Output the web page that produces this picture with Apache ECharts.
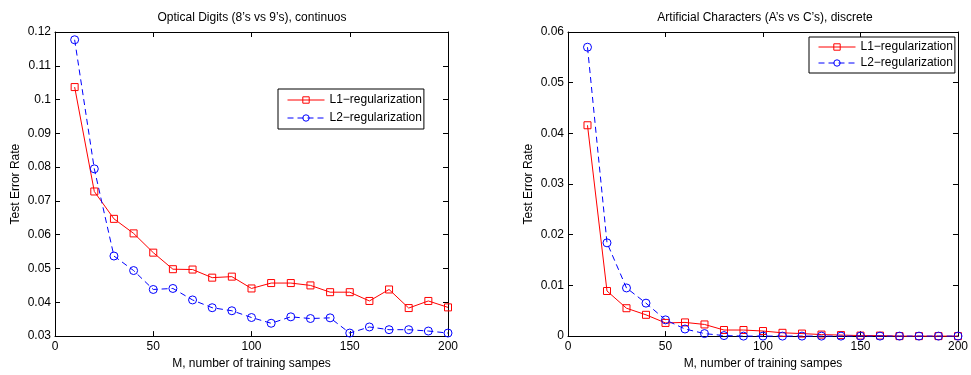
<!DOCTYPE html>
<html>
<head>
<meta charset="utf-8">
<script src="https://cdn.jsdelivr.net/npm/echarts@6/dist/echarts.min.js"></script>
<style>
  html, body { margin: 0; padding: 0; background: #fff; }
  #chart { width: 971px; height: 375px; }
</style>
</head>
<body>
<div id="chart"></div>
<script>
// M values (number of training samples)
const mValues = [10, 20, 30, 40, 50, 60, 70, 80, 90, 100, 110, 120, 130, 140, 150, 160, 170, 180, 190, 200];

// Optical digits, continuous
const digitsL1 = [0.1037, 0.0728, 0.0647, 0.0604, 0.0547, 0.0498, 0.0497, 0.0473, 0.0476, 0.0441,
  0.0457, 0.0457, 0.0450, 0.0430, 0.0430, 0.0404, 0.0438, 0.0383, 0.0404, 0.0385];
const digitsL2 = [0.1177, 0.0795, 0.0537, 0.0494, 0.0438, 0.0441, 0.0407, 0.0384, 0.0375, 0.0355,
  0.0338, 0.0357, 0.0352, 0.0354, 0.0309, 0.0327, 0.0319, 0.0319, 0.0315, 0.0309];

// Artificial characters, discrete
const charsL1 = [0.0416, 0.0089, 0.0055, 0.0042, 0.0026, 0.0027, 0.0023, 0.0012, 0.0012, 0.0010,
  0.00065, 0.0005, 0.0003, 0.0002, 0.0001, 0.0001, 0, 0, 0, 0];
const charsL2 = [0.0570, 0.0184, 0.0095, 0.0065, 0.0032, 0.0014, 0.0005, 0.0001, 0, 0,
  0, 0, 0, 0, 0, 0, 0, 0, 0, 0];

const titles = ['Optical Digits (8\u2019s vs 9\u2019s), continuos', 'Artificial Characters (A\u2019s vs C\u2019s), discrete'];
const seriesNames = ['L1\u2212regularization', 'L2\u2212regularization'];
const xName = 'M, number of training sampes';
const yName = 'Test Error Rate';

const FONT = 'Liberation Sans, Arial, Helvetica, sans-serif';
const FS = 12;
const pairs = (ys) => mValues.map((m, i) => [m, ys[i]]);
const fmt = (v) => String(+v.toFixed(3));

const chart = echarts.init(document.getElementById('chart'));

function xAxes(gridIndex) {
  const base = {
    type: 'value', gridIndex, min: 0, max: 200, interval: 50,
    axisLine: { show: true, onZero: false, lineStyle: { color: '#000', width: 1 } },
    axisTick: { show: true, inside: true, length: 5, lineStyle: { color: '#000' } },
    splitLine: { show: false }
  };
  return [
    Object.assign({}, base, {
      position: 'bottom',
      axisLabel: { color: '#000', fontSize: FS, fontFamily: FONT, margin: 5 },
      name: xName, nameLocation: 'middle', nameGap: 17,
      nameTextStyle: { color: '#000', fontSize: FS, fontFamily: FONT }
    }),
    Object.assign({}, base, { position: 'top', axisLabel: { show: false } })
  ];
}

function yAxes(gridIndex, min, max) {
  const base = {
    type: 'value', gridIndex, min, max, interval: 0.01,
    axisLine: { show: true, onZero: false, lineStyle: { color: '#000', width: 1 } },
    axisTick: { show: true, inside: true, length: 5, lineStyle: { color: '#000' } },
    splitLine: { show: false }
  };
  return [
    Object.assign({}, base, {
      position: 'left',
      axisLabel: { color: '#000', fontSize: FS, fontFamily: FONT, margin: 4, formatter: fmt },
      name: yName, nameLocation: 'middle', nameGap: 33, nameRotate: 90,
      nameTextStyle: { color: '#000', fontSize: FS, fontFamily: FONT }
    }),
    Object.assign({}, base, { position: 'right', axisLabel: { show: false } })
  ];
}

function makeSeries(idx, l1, l2) {
  return [
    {
      name: seriesNames[0], type: 'line', xAxisIndex: idx * 2, yAxisIndex: idx * 2,
      data: pairs(l1), clip: false,
      symbol: 'rect', symbolSize: 7,
      lineStyle: { color: '#ff0000', width: 1 },
      itemStyle: { color: 'none', borderColor: '#ff0000', borderWidth: 1 },
      emphasis: { disabled: true }
    },
    {
      name: seriesNames[1], type: 'line', xAxisIndex: idx * 2, yAxisIndex: idx * 2,
      data: pairs(l2), clip: false,
      symbol: 'circle', symbolSize: 8,
      lineStyle: { color: '#0000ff', width: 1, type: [6, 4] },
      itemStyle: { color: 'none', borderColor: '#0000ff', borderWidth: 1 },
      emphasis: { disabled: true }
    }
  ];
}

function makeLegend(left, top, gap, pad) {
  return {
    left, top, orient: 'vertical',
    data: seriesNames,
    itemWidth: 37, itemHeight: 8, itemGap: gap,
    padding: [pad, 2, pad, 9],
    backgroundColor: '#fff', borderColor: '#000', borderWidth: 1,
    lineStyle: { width: 1 },
    itemStyle: { borderWidth: 1 },
    textStyle: { color: '#000', fontSize: FS, fontFamily: FONT },
    selectedMode: false
  };
}

const option = {
  animation: false,
  backgroundColor: '#fff',
  grid: [
    { left: 55, top: 32, width: 393, height: 310 },
    { left: 568, top: 32, width: 394, height: 310 }
  ],
  graphic: [
    { type: 'text', x: 252, y: 18, style: { text: titles[0], align: 'center', verticalAlign: 'middle', fill: '#000', font: FS + 'px ' + FONT } },
    { type: 'text', x: 765, y: 18, style: { text: titles[1], align: 'center', verticalAlign: 'middle', fill: '#000', font: FS + 'px ' + FONT } }
  ],
  legend: [
    Object.assign(makeLegend(278, 89, 6, 5), { seriesIndex: [0, 1] }),
    Object.assign(makeLegend(809, 37, 4, 4), { seriesIndex: [2, 3] })
  ],
  xAxis: xAxes(0).concat(xAxes(1)),
  yAxis: yAxes(0, 0.03, 0.12).concat(yAxes(1, 0, 0.06)),
  series: makeSeries(0, digitsL1, digitsL2).concat(makeSeries(1, charsL1, charsL2))
};

chart.setOption(option);
</script>
</body>
</html>
